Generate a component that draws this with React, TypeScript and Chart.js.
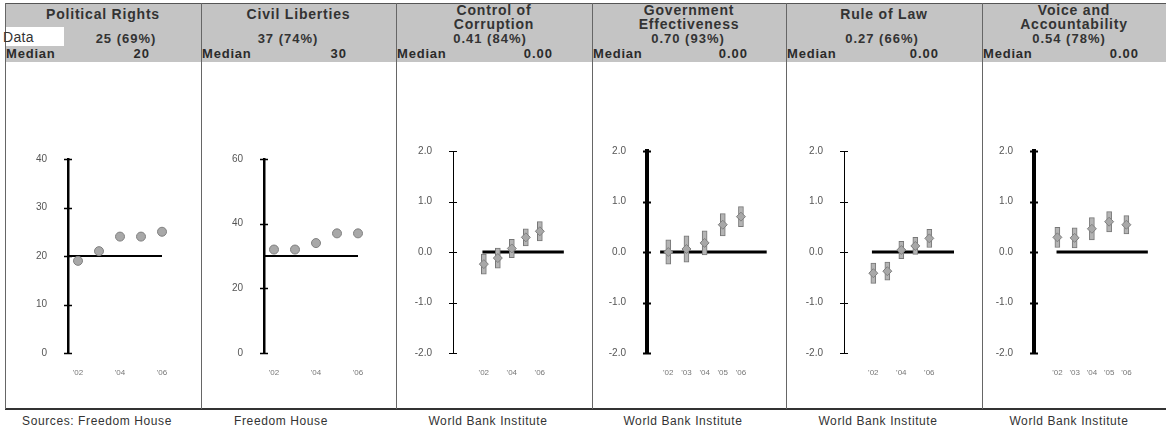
import React, { useEffect, useRef } from "react";
import { Chart, registerables } from "chart.js";

Chart.register(...registerables);

// ---------------- data ----------------
const years = ["'02", "'03", "'04", "'05", "'06"];

const panelTitles = [
  ["Political Rights"],
  ["Civil Liberties"],
  ["Control of", "Corruption"],
  ["Government", "Effectiveness"],
  ["Rule of Law"],
  ["Voice and", "Accountability"],
];
const dataValues = ["25 (69%)", "37 (74%)", "0.41 (84%)", "0.70 (93%)", "0.27 (66%)", "0.54 (78%)"];
const medianValues = ["20", "30", "0.00", "0.00", "0.00", "0.00"];
const sourceLabels = [
  "Sources: Freedom House",
  "Freedom House",
  "World Bank Institute",
  "World Bank Institute",
  "World Bank Institute",
  "World Bank Institute",
];

const politicalRights = [19, 21, 24, 24, 25];
const civilLiberties = [32, 32, 34, 37, 37];
const controlOfCorruption = [-0.24, -0.12, 0.07, 0.29, 0.41];
const governmentEffectiveness = [0.0, 0.06, 0.18, 0.54, 0.7];
const ruleOfLaw = [-0.42, -0.38, 0.04, 0.12, 0.27];
const voiceAccountability = [0.29, 0.28, 0.46, 0.6, 0.54];

const corruptionMargin = [0.2, 0.2, 0.18, 0.17, 0.19];
const effectivenessMargin = [0.24, 0.26, 0.24, 0.22, 0.2];
const ruleMargin = [0.2, 0.18, 0.17, 0.17, 0.18];
const voiceMargin = [0.2, 0.2, 0.22, 0.2, 0.18];

const medians = [20, 30, 0, 0, 0, 0];
const yMin = [0, 0, -2, -2, -2, -2];
const yMax = [40, 60, 2, 2, 2, 2];
const yStep = [10, 20, 1, 1, 1, 1];
const yDecimals = [0, 0, 1, 1, 1, 1];
const shownYears = [
  [0, 2, 4],
  [0, 2, 4],
  [0, 2, 4],
  [0, 1, 2, 3, 4],
  [0, 2, 4],
  [0, 1, 2, 3, 4],
];

const seriesList = [
  politicalRights,
  civilLiberties,
  controlOfCorruption,
  governmentEffectiveness,
  ruleOfLaw,
  voiceAccountability,
];
const marginList = [null, null, corruptionMargin, effectivenessMargin, ruleMargin, voiceMargin];

// ---------------- layout (pixels) ----------------
const edges = [5, 201, 396, 592, 786, 982, 1166];
const CANVAS_TOP = 63;
const CANVAS_BOTTOM = 408;
const PLOT_BOTTOM = 353;
const layout = [
  { axisX: 68, first: 78, step: 21, top: 159, axisW: 2.5, tickW: 1.5, lineStart: -0.5, lineEnd: 4, lineW: 2, dataX: 126, medRight: 150, srcX: 97 },
  { axisX: 264, first: 274, step: 21, top: 159, axisW: 2.5, tickW: 1.5, lineStart: -0.5, lineEnd: 4, lineW: 2, dataX: 288, medRight: 347, srcX: 281 },
  { axisX: 453, first: 466, step: 21, top: 151, axisW: 1, tickW: 1, lineStart: -0.1, lineEnd: 99, lineW: 3, dataX: 490, medRight: 553, srcX: 488 },
  { axisX: 647, first: 657, step: 22.7, top: 151, axisW: 4, tickW: 2, lineStart: -0.45, lineEnd: 99, lineW: 3, dataX: 688, medRight: 748, srcX: 683 },
  { axisX: 844, first: 855, step: 21, top: 151, axisW: 1, tickW: 1, lineStart: -0.1, lineEnd: 99, lineW: 3, dataX: 882, medRight: 939, srcX: 878 },
  { axisX: 1034, first: 1048, step: 22.5, top: 151, axisW: 4, tickW: 2, lineStart: -0.05, lineEnd: 99, lineW: 3, dataX: 1069, medRight: 1139, srcX: 1069 },
];

const FONT = '"Liberation Sans", Arial, Helvetica, sans-serif';

const crossTicks = {
  id: "crossTicks",
  afterDatasetsDraw(chart: any, _args: any, opts: any) {
    const y = chart.scales.y;
    const ctx = chart.ctx;
    const x0 = chart.chartArea.left;
    ctx.save();
    ctx.strokeStyle = "#000";
    ctx.lineWidth = opts.width || 1;
    ctx.beginPath();
    y.ticks.forEach((t: any) => {
      const py = Math.round(y.getPixelForValue(t.value)) + 0.5;
      ctx.moveTo(x0 - 4, py);
      ctx.lineTo(x0 + 4, py);
    });
    ctx.stroke();
    ctx.restore();
  },
};

function PanelChart({ idx }: { idx: number }) {
  const ref = useRef<HTMLCanvasElement>(null);
  const L = layout[idx];
  const left = edges[idx] + 1;
  const right = edges[idx + 1];
  const width = right - left;
  const height = CANVAS_BOTTOM - CANVAS_TOP;
  const chartRight = idx === 5 ? right : right - 6;

  useEffect(() => {
    const values = seriesList[idx];
    const margins = marginList[idx];
    const xMin = -(L.first - L.axisX) / L.step;
    const xMax = xMin + (chartRight - L.axisX) / L.step;
    const lineEnd = Math.min(L.lineEnd, xMax);
    const datasets: any[] = [
      {
        type: "line",
        data: [
          { x: L.lineStart, y: medians[idx] },
          { x: lineEnd, y: medians[idx] },
        ],
        borderColor: "#000",
        borderWidth: L.lineW,
        pointRadius: 0,
        order: 3,
      },
    ];
    if (margins) {
      datasets.push({
        type: "bar",
        data: values.map((v, i) => ({ x: i, y: [v - margins[i], v + margins[i]] })),
        backgroundColor: "#b4b4b4",
        borderColor: "#777",
        borderWidth: 1,
        borderSkipped: false,
        barThickness: 5,
        order: 2,
      });
    }
    datasets.push({
      type: "line",
      showLine: false,
      data: values.map((v, i) => ({ x: i, y: v })),
      pointStyle: margins ? "rectRot" : "circle",
      pointRadius: 4.5,
      pointBackgroundColor: "#a8a8a8",
      pointBorderColor: "#808080",
      pointBorderWidth: 1,
      order: 1,
    });

    const chart = new Chart(ref.current as HTMLCanvasElement, {
      type: "line",
      data: { datasets },
      plugins: [crossTicks],
      options: {
        animation: false,
        responsive: false,
        events: [],
        plugins: {
          legend: { display: false },
          tooltip: { enabled: false },
          crossTicks: { width: L.tickW },
        },
        layout: {
          padding: { top: L.top - CANVAS_TOP, right: right - chartRight, left: 0, bottom: 0 },
        },
        scales: {
          x: {
            type: "linear",
            min: xMin,
            max: xMax,
            grid: { display: false },
            border: { display: false },
            afterBuildTicks: (s: any) => {
              s.ticks = shownYears[idx].map((v) => ({ value: v }));
            },
            afterFit: (s: any) => {
              s.height = CANVAS_BOTTOM - PLOT_BOTTOM;
            },
            ticks: {
              autoSkip: false,
              maxRotation: 0,
              padding: 7,
              color: "#777",
              font: { family: FONT, size: 8 },
              callback: (v: any) => years[v as number] ?? "",
            },
          },
          y: {
            type: "linear",
            min: yMin[idx],
            max: yMax[idx],
            afterFit: (s: any) => {
              s.width = L.axisX - left;
            },
            ticks: {
              stepSize: yStep[idx],
              padding: 13,
              color: "#555",
              font: { family: FONT, size: 10 },
              callback: (v: any) => Number(v).toFixed(yDecimals[idx]),
            },
            grid: { display: false },
            border: { display: true, color: "#000", width: L.axisW },
          },
        },
      } as any,
    });
    return () => chart.destroy();
  }, []);

  return (
    <canvas
      ref={ref}
      width={width}
      height={height}
      style={{ position: "absolute", left, top: CANVAS_TOP, width, height }}
    />
  );
}

const textBase: React.CSSProperties = {
  position: "absolute",
  fontFamily: FONT,
  whiteSpace: "nowrap",
  color: "#2b2b2b",
  lineHeight: "1",
};

export default function App() {
  return (
    <div
      style={{
        position: "absolute",
        left: 0,
        top: 0,
        width: 1166,
        height: 432,
        background: "#fff",
        overflow: "hidden",
      }}
    >
      {/* header band */}
      <div style={{ position: "absolute", left: 5, top: 3, width: 1161, height: 59, background: "#c4c4c4" }} />
      <div style={{ position: "absolute", left: 0, top: 27, width: 64, height: 19, background: "#fff" }} />
      <div style={{ position: "absolute", left: 5, top: 3, width: 1161, height: 1, background: "#555" }} />
      {/* bottom rule */}
      <div style={{ position: "absolute", left: 5, top: 408, width: 1161, height: 2, background: "#333" }} />
      {edges.slice(0, 6).map((x, i) => (
        <div key={"v" + i} style={{ position: "absolute", left: x, top: 3, width: 1, height: 406, background: "#666" }} />
      ))}

      {panelTitles.map((lines, i) => {
        const cx = (edges[i] + edges[i + 1]) / 2;
        return lines.map((t, j) => (
          <div
            key={"t" + i + j}
            style={{
              ...textBase,
              left: cx,
              top: lines.length === 1 ? 14 : 10 + j * 14,
              transform: "translate(-50%,-50%)",
              fontWeight: "bold",
              fontSize: 14,
              letterSpacing: 0.8,
              color: "#333",
            }}
          >
            {t}
          </div>
        ));
      })}

      <div style={{ ...textBase, left: 3, top: 37, transform: "translateY(-50%)", fontSize: 14, letterSpacing: 0.3, color: "#333" }}>
        Data
      </div>

      {dataValues.map((t, i) => (
        <div
          key={"d" + i}
          style={{
            ...textBase,
            left: layout[i].dataX,
            top: 38,
            transform: "translate(-50%,-50%)",
            fontWeight: "bold",
            fontSize: 13,
            letterSpacing: 1,
            color: "#333",
          }}
        >
          {t}
        </div>
      ))}

      {medianValues.map((t, i) => (
        <React.Fragment key={"m" + i}>
          <div
            style={{
              ...textBase,
              left: edges[i] + 1,
              top: 53,
              transform: "translateY(-50%)",
              fontWeight: "bold",
              fontSize: 13,
              letterSpacing: 0.8,
            }}
          >
            Median
          </div>
          <div
            style={{
              ...textBase,
              left: layout[i].medRight,
              top: 53,
              transform: "translate(-100%,-50%)",
              fontWeight: "bold",
              fontSize: 13,
              letterSpacing: 1,
            }}
          >
            {t}
          </div>
        </React.Fragment>
      ))}

      {layout.map((_, i) => (
        <PanelChart key={"c" + i} idx={i} />
      ))}

      {sourceLabels.map((t, i) => (
        <div
          key={"s" + i}
          style={{
            ...textBase,
            left: layout[i].srcX,
            top: 421,
            transform: "translate(-50%,-50%)",
            fontSize: 12,
            letterSpacing: 0.6,
            color: "#333",
          }}
        >
          {t}
        </div>
      ))}
    </div>
  );
}
